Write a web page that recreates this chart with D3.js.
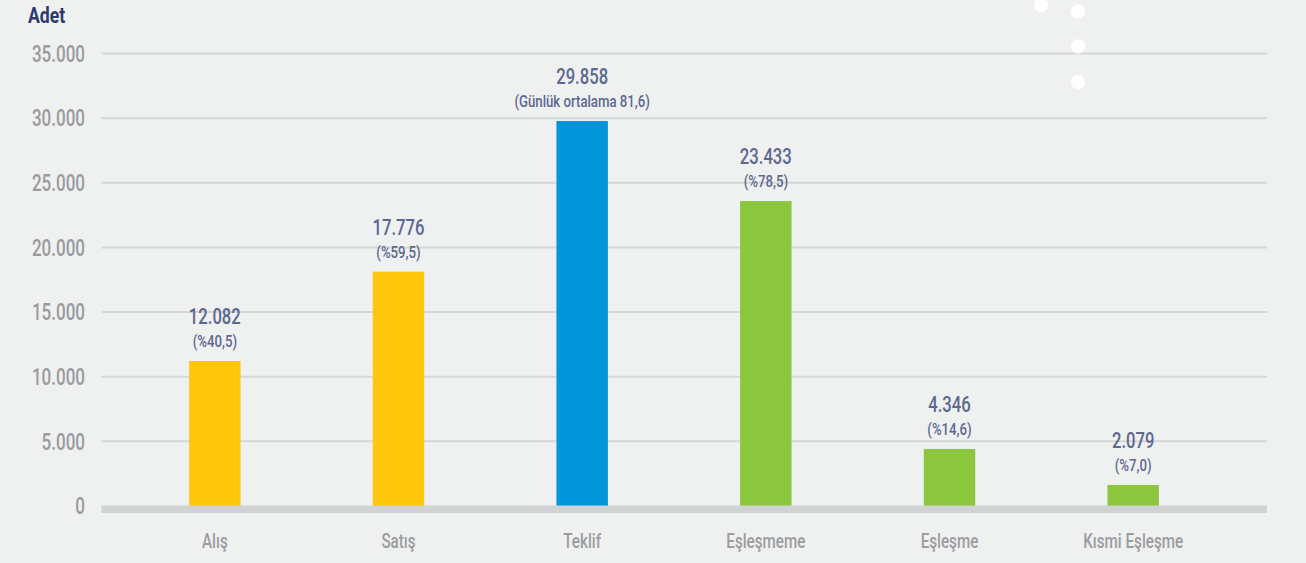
<!DOCTYPE html>
<html>
<head>
<meta charset="utf-8">
<script src="https://cdn.jsdelivr.net/npm/d3@7"></script>
<style>
  html, body { margin: 0; padding: 0; background: #eff0f0; }
  svg { display: block; }
  text { font-family: "Roboto", "Liberation Sans", sans-serif; }
</style>
</head>
<body>
<svg id="chart" width="1306" height="563"></svg>
<script>
// Categories and values
const categories = ["Alış", "Satış", "Teklif", "Eşleşmeme", "Eşleşme", "Kısmi Eşleşme"];
// Bar heights as drawn in the picture
const barValues = [11215, 18125, 29780, 23590, 4410, 1625];
// Printed labels
const valueLabels = ["12.082", "17.776", "29.858", "23.433", "4.346", "2.079"];
const subLabels = ["(%40,5)", "(%59,5)", "(Günlük ortalama 81,6)", "(%78,5)", "(%14,6)", "(%7,0)"];
const barColors = ["#fec70b", "#fec70b", "#0096d9", "#8cc63f", "#8cc63f", "#8cc63f"];
const yTicks = [0, 5000, 10000, 15000, 20000, 25000, 30000, 35000];
const yTickLabels = ["0", "5.000", "10.000", "15.000", "20.000", "25.000", "30.000", "35.000"];
const yTitle = "Adet";

const svg = d3.select("#chart");

const x = d3.scaleBand()
  .domain(categories)
  .range([123, 1225])
  .paddingInner(0.72)
  .paddingOuter(0.36);

const y = d3.scaleLinear()
  .domain([0, 35000])
  .range([506, 53.5]);

const gridX0 = 101.5, gridX1 = 1267;

// helper for condensed text: group translated, text scaled horizontally
function condensedText(sel, sx) {
  return sel.append("g")
    .attr("transform", d => `translate(${d.x},${d.y}) scale(${sx},1)`)
    .append("text");
}

// Gridlines
svg.append("g").selectAll("line")
  .data(yTicks.filter(d => d > 0))
  .join("line")
  .attr("x1", gridX0).attr("x2", gridX1)
  .attr("y1", d => y(d)).attr("y2", d => y(d))
  .attr("stroke", "#d5d6d6").attr("stroke-width", 2);

// Y tick labels
svg.append("g").selectAll("g")
  .data(yTicks.map((t, i) => ({ x: 85, y: y(t), label: yTickLabels[i] })))
  .join("g")
  .attr("transform", d => `translate(${d.x},${d.y}) scale(0.74,1)`)
  .append("text")
  .attr("dy", "0.36em")
  .attr("text-anchor", "end")
  .attr("font-size", 23)
  .attr("font-weight", 500)
  .attr("fill", "#9a9b9e")
  .text(d => d.label);

// Axis title
svg.append("g")
  .attr("transform", "translate(28,23) scale(0.8,1)")
  .append("text")
  .attr("font-size", 22)
  .attr("font-weight", "bold")
  .attr("fill", "#2d3a6e")
  .text(yTitle);

// Bars
svg.append("g").selectAll("rect")
  .data(categories)
  .join("rect")
  .attr("x", d => x(d))
  .attr("width", x.bandwidth())
  .attr("y", (d, i) => y(barValues[i]))
  .attr("height", (d, i) => y(0) - y(barValues[i]))
  .attr("fill", (d, i) => barColors[i]);

// Baseline band
svg.append("rect")
  .attr("x", gridX0).attr("width", gridX1 - gridX0)
  .attr("y", y(0) - 0.5).attr("height", 7.5)
  .attr("fill", "#d1d2d4");

const cx = d => x(d) + x.bandwidth() / 2;

// Value labels
svg.append("g").selectAll("g")
  .data(categories.map((c, i) => ({ x: cx(c), y: y(barValues[i]) - 37, label: valueLabels[i] })))
  .join("g")
  .attr("transform", d => `translate(${d.x},${d.y}) scale(0.74,1)`)
  .append("text")
  .attr("text-anchor", "middle")
  .attr("font-size", 22.5)
  .attr("font-weight", 500)
  .attr("fill", "#5d6891")
  .text(d => d.label);

svg.append("g").selectAll("g")
  .data(categories.map((c, i) => ({ x: cx(c), y: y(barValues[i]) - 14, label: subLabels[i] })))
  .join("g")
  .attr("transform", d => `translate(${d.x},${d.y}) scale(0.8,1)`)
  .append("text")
  .attr("text-anchor", "middle")
  .attr("font-size", 16.5)
  .attr("font-weight", 500)
  .attr("fill", "#5d6891")
  .text(d => d.label);

// X category labels
svg.append("g").selectAll("g")
  .data(categories.map(c => ({ x: cx(c), y: 548, label: c })))
  .join("g")
  .attr("transform", d => `translate(${d.x},${d.y}) scale(0.78,1)`)
  .append("text")
  .attr("text-anchor", "middle")
  .attr("font-size", 19.5)
  .attr("font-weight", 500)
  .attr("fill", "#9b9c9f")
  .text(d => d.label);

// Decorative dots
const dots = [[1041, 5], [1078, 11.5], [1078, 46.5], [1078, 82]];
svg.append("g").selectAll("circle")
  .data(dots)
  .join("circle")
  .attr("cx", d => d[0]).attr("cy", d => d[1])
  .attr("r", 7.2)
  .attr("fill", "#ffffff");
</script>
</body>
</html>
